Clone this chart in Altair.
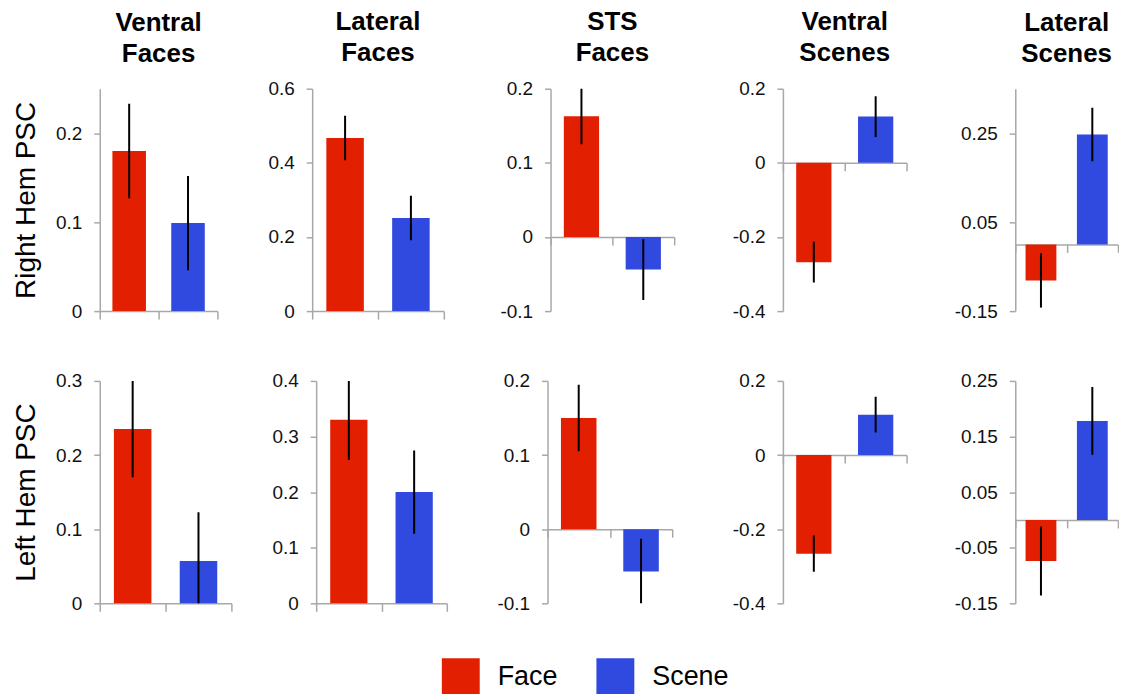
import altair as alt
import pandas as pd

# ---------------- data ----------------
regions = [["Ventral", "Faces"], ["Lateral", "Faces"], ["STS", "Faces"],
           ["Ventral", "Scenes"], ["Lateral", "Scenes"]]
hemis = ["Right Hem PSC", "Left Hem PSC"]
conditions = ["Face", "Scene"]

face_right = [0.180, 0.467, 0.163, -0.268, -0.081]
face_right_err = [0.053, 0.060, 0.038, 0.055, 0.061]
scene_right = [0.099, 0.251, -0.044, 0.125, 0.247]
scene_right_err = [0.053, 0.060, 0.041, 0.055, 0.060]

face_left = [0.235, 0.330, 0.150, -0.266, -0.074]
face_left_err = [0.065, 0.072, 0.045, 0.049, 0.062]
scene_left = [0.057, 0.200, -0.057, 0.109, 0.178]
scene_left_err = [0.066, 0.075, 0.044, 0.048, 0.061]

domains_right = [[0, 0.25], [0, 0.6], [-0.1, 0.2], [-0.4, 0.2], [-0.15, 0.35]]
domains_left = [[0, 0.3], [0, 0.4], [-0.1, 0.2], [-0.4, 0.2], [-0.15, 0.25]]
ticks_right = [[0, 0.1, 0.2], [0, 0.2, 0.4, 0.6], [-0.1, 0, 0.1, 0.2],
               [-0.4, -0.2, 0, 0.2], [-0.15, 0.05, 0.25]]
ticks_left = [[0, 0.1, 0.2, 0.3], [0, 0.1, 0.2, 0.3, 0.4], [-0.1, 0, 0.1, 0.2],
              [-0.4, -0.2, 0, 0.2], [-0.15, -0.05, 0.05, 0.15, 0.25]]

# ---------------- layout / style ----------------
FONT = "Liberation Sans"
RED = "#e21f00"
BLUE = "#3049de"
AXC = "#a8a8a8"
PANEL_H = 223
widths = [[118, 132, 124, 124, 103], [132, 131, 125, 124, 103]]
extents = [[48, 94, 106, 108, 108], [48, 84, 100, 110, 108]]
bar_band = [0.57, 0.57, 0.57, 0.57, 0.6]

face = [face_right, face_left]
face_err = [face_right_err, face_left_err]
scene = [scene_right, scene_left]
scene_err = [scene_right_err, scene_left_err]
domains = [domains_right, domains_left]
ticks = [ticks_right, ticks_left]

legend = alt.Legend(orient="none", legendX=343, legendY=571, direction="horizontal",
                    title=None, symbolType="square", symbolSize=1444,
                    symbolStrokeWidth=0, symbolOpacity=1, labelFontSize=27,
                    labelFont=FONT, labelColor="black", labelOffset=18,
                    columnPadding=38, padding=0)


def panel(r, c):
    dom = domains[r][c]
    df = pd.DataFrame({
        "cond": conditions,
        "mean": [face[r][c], scene[r][c]],
        "err": [face_err[r][c], scene_err[r][c]],
    })
    df["lo"] = df["mean"] - df["err"]
    df["hi"] = df["mean"] + df["err"]

    zero_offset = -(0 - dom[0]) / (dom[1] - dom[0]) * PANEL_H

    x = alt.X("cond:N", scale=alt.Scale(domain=conditions, paddingInner=0, paddingOuter=0),
              axis=alt.Axis(title=None, labels=False, ticks=True, tickBand="extent",
                            tickSize=8, tickColor=AXC, domainColor=AXC, domainWidth=1.5,
                            tickWidth=1.5, offset=zero_offset, grid=False))
    yaxis = alt.Axis(title=hemis[r] if c == 0 else None, values=ticks[r][c],
                     labelExpr="toString(datum.value)", labelOverlap=False,
                     labelFontSize=19, labelFont=FONT, labelColor="#111111",
                     tickSize=6, tickColor=AXC, domainColor=AXC, domainWidth=1.5,
                     tickWidth=1.5, labelPadding=12, grid=False,
                     minExtent=extents[r][c], maxExtent=extents[r][c],
                     titleFontSize=28, titleFont=FONT, titleFontWeight="normal",
                     titleColor="black", titlePadding=11)
    yscale = alt.Scale(domain=dom, nice=False, zero=False)

    bars = alt.Chart(df).mark_bar(width={"band": bar_band[c]}).encode(
        x=x,
        y=alt.Y("mean:Q", scale=yscale, axis=yaxis),
        color=alt.Color("cond:N", scale=alt.Scale(domain=conditions, range=[RED, BLUE]),
                        legend=legend),
    )
    err = alt.Chart(df).mark_rule(color="black", strokeWidth=2, clip=True).encode(
        x=x,
        y=alt.Y("lo:Q", scale=yscale, axis=yaxis),
        y2="hi:Q",
    )
    props = dict(width=widths[r][c], height=PANEL_H)
    if r == 0:
        top_label = ticks[r][c][-1] == dom[1]
        props["title"] = alt.TitleParams(regions[c], fontSize=26, fontWeight="bold",
                                         font=FONT, color="black", anchor="middle",
                                         frame="group", lineHeight=31,
                                         offset=13.5 if top_label else 22)
    return alt.layer(bars, err).properties(**props)


rows = [alt.hconcat(*[panel(r, c) for c in range(5)], spacing=0) for r in range(2)]
chart = (alt.vconcat(*rows, spacing=51)
         .properties(padding={"left": 5, "top": 0, "right": 0, "bottom": 0})
         .configure(font=FONT)
         .configure_view(stroke=None))

chart.save("out.html", embed_options={"renderer": "svg", "actions": False})
